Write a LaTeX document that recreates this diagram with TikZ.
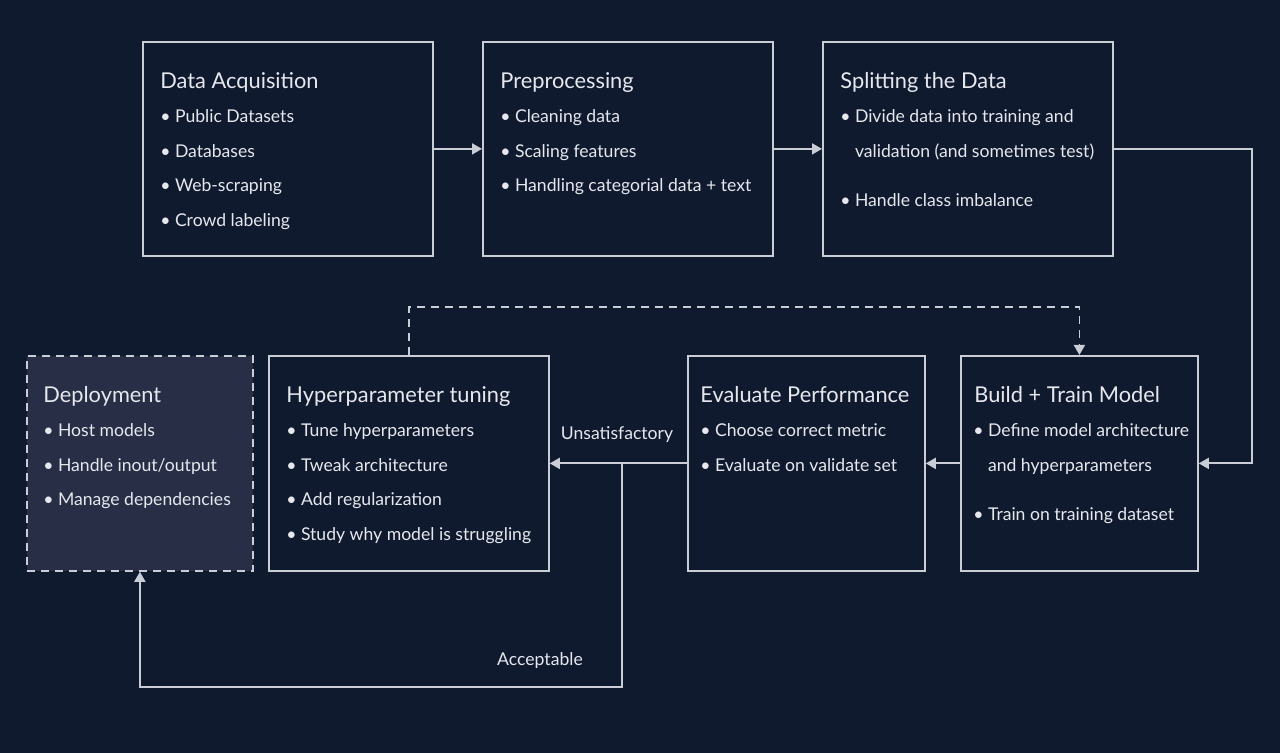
\documentclass[tikz,border=0pt]{standalone}
\usepackage{fontspec}
\setmainfont{Lato}
\usetikzlibrary{arrows.meta}
\definecolor{bgnavy}{HTML}{101A2F}
\definecolor{deployfill}{HTML}{272E46}
\definecolor{linegray}{HTML}{C9CDD6}
\definecolor{textwhite}{HTML}{E6E8EE}
\tikzset{
    stage/.style={draw=linegray, line width=0.9pt, anchor=north west, inner sep=0pt},
    title/.style={anchor=base west, inner sep=0pt, text=textwhite, font=\fontsize{10.9}{13}\selectfont},
    item/.style={anchor=base west, inner sep=0pt, text=textwhite, font=\fontsize{8.8}{11}\selectfont},
    flow/.style={draw=linegray, line width=0.9pt, -{Triangle[length=5pt,width=5.5pt]}},
}
\newcommand{\bul}{\textbullet\kern2.2pt}
\begin{document}
\begin{tikzpicture}[x=0.5pt, y=-0.5pt]
    \fill[bgnavy] (0,0) rectangle (1280,753);
    \useasboundingbox (0,0) rectangle (1280,753);
    % top row
    \node[stage, minimum width=145pt, minimum height=107pt] (da) at (142,41) {};
    \node[stage, minimum width=145pt, minimum height=107pt] (pre) at (482,41) {};
    \node[stage, minimum width=145pt, minimum height=107pt] (split) at (822,41) {};
    % bottom row
    \node[stage, fill=deployfill, dash pattern=on 4pt off 3pt, minimum width=113pt, minimum height=107.5pt] (depl) at (26,355) {};
    \node[stage, minimum width=140pt, minimum height=107.5pt] (hyper) at (268,355) {};
    \node[stage, minimum width=118.5pt, minimum height=107.5pt] (eval) at (687,355) {};
    \node[stage, minimum width=118.5pt, minimum height=107.5pt] (build) at (960,355) {};

    \node[title] (da-t) at ([shift={(18,48)}]da.north west) {Data Acquisition};
    \foreach \t [count=\i] in {Public Datasets, Databases, Web-scraping, Crowd labeling}
        \node[item] (da-\i) at ([shift={(18,82+34.5*(\i-1))}]da.north west) {\bul\t};

    \node[title] (pre-t) at ([shift={(18,48)}]pre.north west) {Preprocessing};
    \foreach \t [count=\i] in {Cleaning data, Scaling features, Handling categorial data + text}
        \node[item] (pre-\i) at ([shift={(18,82+34.5*(\i-1))}]pre.north west) {\bul\t};

    \node[title] (split-t) at ([shift={(18,48)}]split.north west) {Splitting the Data};
    \node[item] (split-1) at ([shift={(18,82)}]split.north west) {\bul Divide data into training and};
    \node[item] (split-2) at ([shift={(18,116.5)}]split.north west) {\phantom{\bul}validation (and sometimes test)};
    \node[item] (split-3) at ([shift={(18,166)}]split.north west) {\bul Handle class imbalance};

    \node[title] (depl-t) at ([shift={(17,48)}]depl.north west) {Deployment};
    \foreach \t [count=\i] in {Host models, Handle inout/output, Manage dependencies}
        \node[item] (depl-\i) at ([shift={(17,82+34.5*(\i-1))}]depl.north west) {\bul\t};

    \node[title] (hyper-t) at ([shift={(18,48)}]hyper.north west) {Hyperparameter tuning};
    \foreach \t [count=\i] in {Tune hyperparameters, Tweak architecture, Add regularization, Study why model is struggling}
        \node[item] (hyper-\i) at ([shift={(18,82+34.5*(\i-1))}]hyper.north west) {\bul\t};

    \node[title] (eval-t) at ([shift={(13,48)}]eval.north west) {Evaluate Performance};
    \foreach \t [count=\i] in {Choose correct metric, Evaluate on validate set}
        \node[item] (eval-\i) at ([shift={(13,82+34.5*(\i-1))}]eval.north west) {\bul\t};

    \node[title] (build-t) at ([shift={(14,48)}]build.north west) {Build + Train Model};
    \node[item] (build-1) at ([shift={(13,82)}]build.north west) {\bul Define model architecture};
    \node[item] (build-2) at ([shift={(13,116.5)}]build.north west) {\phantom{\bul}and hyperparameters};
    \node[item] (build-3) at ([shift={(13,166)}]build.north west) {\bul Train on training dataset};

    % connectors
    \draw[flow] (da.east) -- (pre.west);
    \draw[flow] (pre.east) -- (split.west);
    \draw[flow] (split.east) -- ++(138,0) |- (build.east);
    \draw[flow] (build.west) -- (eval.east);
    \draw[flow] (eval.west) -- (hyper.east);
    \node[item, anchor=center] (unsat) at (617,435) {Unsatisfactory};
    \coordinate (branch) at (622,462);
    \coordinate (acc) at (622,687);
    \draw[flow] (branch) -- (acc) -| (depl.south);
    \node[item, anchor=center] (acc-l) at (540,661) {Acceptable};
    \draw[flow, dash pattern=on 4pt off 3pt] (hyper.north) -- ++(0,-48) -| (build.north);
\end{tikzpicture}
\end{document}
